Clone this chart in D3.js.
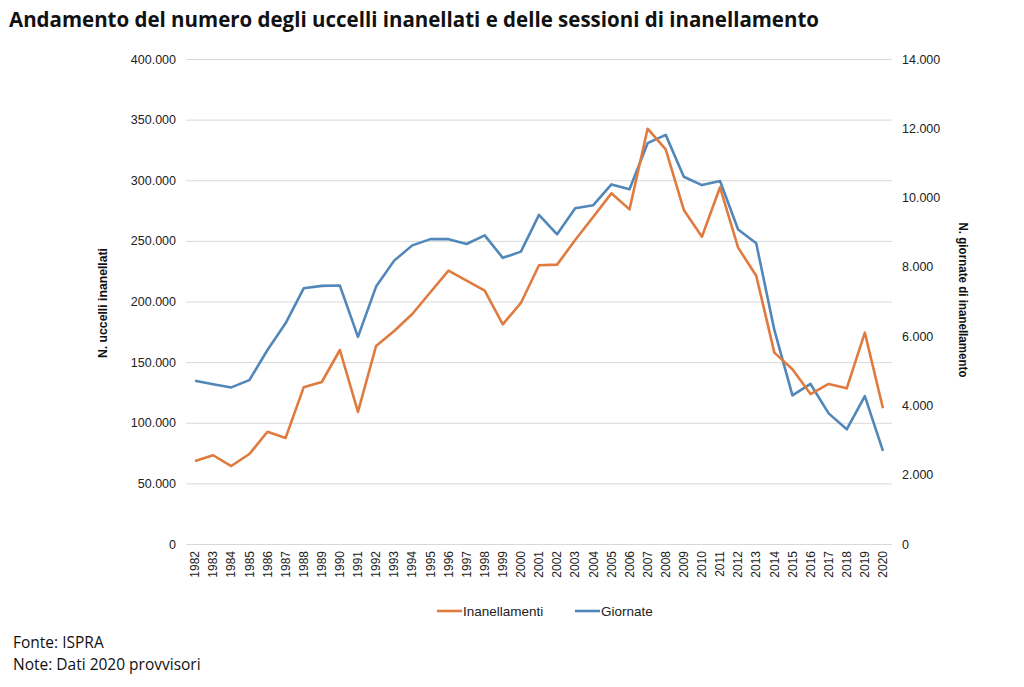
<!DOCTYPE html>
<html>
<head>
<meta charset="utf-8">
<script src="https://cdn.jsdelivr.net/npm/d3@7"></script>
<style>
  body { margin: 0; background: #fff; }
  text { font-family: "Liberation Sans", Arial, sans-serif; }
</style>
</head>
<body>
<script>
// dati
let years = d3.range(1982, 2021).map(String);
let inanellamenti = [68500, 73200, 64300, 74200, 92600, 87400, 129200, 133600, 160000, 108900,
  163300, 175700, 189700, 207600, 225400, 217200, 208900, 181200, 198800, 229900,
  230400, 250700, 269900, 289200, 276000, 342500, 325500, 275500, 253400, 294200,
  244400, 221300, 157800, 144100, 123700, 132000, 128400, 174300, 111900];
let giornate = [4710, 4610, 4520, 4730, 5600, 6370, 7380, 7450, 7460, 5980,
  7430, 8180, 8620, 8800, 8800, 8660, 8910, 8260, 8440, 9500,
  8940, 9690, 9780, 10380, 10240, 11570, 11810, 10600, 10360, 10480,
  9080, 8680, 6180, 4290, 4620, 3770, 3310, 4270, 2690];
let leftTicks = d3.range(0, 400001, 50000);
let rightTicks = d3.range(0, 14001, 2000);

let W = 1024, H = 687;
let m = {left: 186, right: 892, top: 59, bottom: 544};

let svg = d3.select("body").append("svg").attr("width", W).attr("height", H);

let x = d3.scaleBand().domain(years).range([m.left, m.right]);
let yL = d3.scaleLinear().domain([0, 400000]).range([m.bottom, m.top]);
let yR = d3.scaleLinear().domain([0, 14000]).range([m.bottom, m.top]);
let fmt = d => d3.format(",")(d).replace(/,/g, ".");

// titolo
svg.append("text").attr("x", 9).attr("y", 27)
  .style("font-family", "'Open Sans', sans-serif").style("font-weight", 700)
  .style("font-size", "21px").attr("fill", "#111")
  .attr("textLength", 810).attr("lengthAdjust", "spacingAndGlyphs")
  .text("Andamento del numero degli uccelli inanellati e delle sessioni di inanellamento");

// griglia
svg.append("g").selectAll("line").data(leftTicks).enter().append("line")
  .attr("x1", m.left).attr("x2", m.right)
  .attr("y1", d => yL(d) + 0.5).attr("y2", d => yL(d) + 0.5)
  .attr("stroke", "#d9d9d9").attr("stroke-width", 1);

// asse sinistro
let axL = svg.append("g").attr("transform", `translate(${m.left - 10},0)`)
  .call(d3.axisLeft(yL).tickValues(leftTicks).tickFormat(fmt).tickSize(0).tickPadding(0));
axL.select(".domain").remove();
axL.selectAll("text").style("font-size", "12.5px").attr("fill", "#222")
  .style("font-family", "'Liberation Sans', Arial, sans-serif");

// asse destro
let axR = svg.append("g").attr("transform", `translate(${m.right + 10},0)`)
  .call(d3.axisRight(yR).tickValues(rightTicks).tickFormat(fmt).tickSize(0).tickPadding(0));
axR.select(".domain").remove();
axR.selectAll("text").style("font-size", "12.5px").attr("fill", "#222")
  .style("font-family", "'Liberation Sans', Arial, sans-serif");

// asse x
let axX = svg.append("g").attr("transform", `translate(0,${m.bottom})`)
  .call(d3.axisBottom(x).tickSize(0).tickPadding(0));
axX.select(".domain").remove();
axX.selectAll("text")
  .attr("transform", "rotate(-90)")
  .attr("x", -7).attr("y", 0).attr("dy", "0.35em")
  .style("text-anchor", "end").style("font-size", "12px").attr("fill", "#222")
  .style("font-family", "'Liberation Sans', Arial, sans-serif");

// titoli assi
svg.append("text").attr("transform", "translate(107,303) rotate(-90)")
  .attr("text-anchor", "middle").style("font-size", "12px").style("font-weight", "bold")
  .attr("textLength", 110).attr("lengthAdjust", "spacingAndGlyphs")
  .attr("fill", "#111").text("N. uccelli inanellati");
svg.append("text").attr("transform", "translate(959,300) rotate(90)")
  .attr("text-anchor", "middle").style("font-size", "12px").style("font-weight", "bold")
  .attr("textLength", 155).attr("lengthAdjust", "spacingAndGlyphs")
  .attr("fill", "#111").text("N. giornate di inanellamento");

// linee
let cx = d => x(d) + x.bandwidth() / 2;
let lineL = d3.line().x((d, i) => cx(years[i])).y(d => yL(d));
let lineR = d3.line().x((d, i) => cx(years[i])).y(d => yR(d));

svg.append("path").attr("d", lineR(giornate))
  .attr("fill", "none").attr("stroke", "#5187b9").attr("stroke-width", 2.6)
  .attr("stroke-linejoin", "round");
svg.append("path").attr("d", lineL(inanellamenti))
  .attr("fill", "none").attr("stroke", "#e07b3f").attr("stroke-width", 2.6)
  .attr("stroke-linejoin", "round");

// legenda
let legend = [
  {name: "Inanellamenti", color: "#e07b3f", x: 437},
  {name: "Giornate", color: "#5187b9", x: 575}
];
let lg = svg.append("g").selectAll("g").data(legend).enter().append("g")
  .attr("transform", d => `translate(${d.x},611)`);
lg.append("line").attr("x1", 0).attr("x2", 25).attr("y1", 0).attr("y2", 0)
  .attr("stroke", d => d.color).attr("stroke-width", 2.6);
lg.append("text").attr("x", 26).attr("y", 0).attr("dy", "0.35em")
  .style("font-size", "13.5px").attr("fill", "#222").text(d => d.name);

// note
let foot = ["Fonte: ISPRA", "Note: Dati 2020 provvisori"];
svg.append("g").selectAll("text").data(foot).enter().append("text")
  .attr("x", 13).attr("y", (d, i) => 648 + i * 22)
  .style("font-family", "'Open Sans', sans-serif").style("font-size", "15.5px")
  .attr("fill", "#111").text(d => d);
</script>
</body>
</html>
